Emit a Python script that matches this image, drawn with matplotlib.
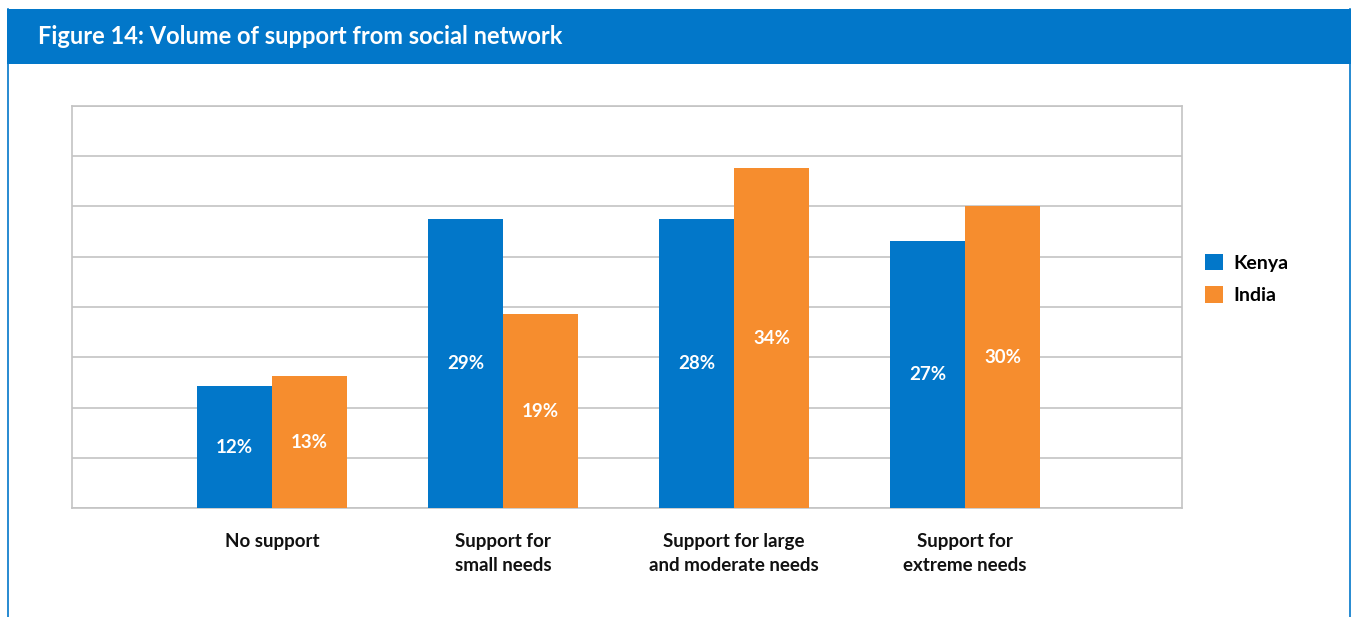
import numpy as np
import matplotlib.pyplot as plt
from matplotlib.lines import Line2D
from matplotlib.patches import Rectangle

# ======= DATOS =======
categories = ["No support", "Support for\nsmall needs",
              "Support for large\nand moderate needs", "Support for\nextreme needs"]
series_names = ["Kenya", "India"]
kenya_vals = [12.1, 28.8, 28.8, 26.6]   # altura de barra
india_vals = [13.1, 19.3, 33.8, 30.0]
kenya_labels = ["12%", "29%", "28%", "27%"]
india_labels = ["13%", "19%", "34%", "30%"]
# =====================

BLUE = "#0277C9"
ORANGE = "#F68D2E"
GRID = "#C4C4C4"
FONT = "Lato"

W, H = 1353, 617
fig = plt.figure(figsize=(W / 100, H / 100), dpi=100)
fig.patch.set_facecolor("white")

def fx(px): return px / W
def fy(py): return 1 - py / H

# marco (solo lados) y cabecera
for px in (8, 1350):
    fig.lines.append(Line2D([fx(px), fx(px)], [fy(9), 0], transform=fig.transFigure,
                            color=BLUE, lw=1.2))
fig.patches.append(Rectangle((fx(7), fy(64)), fx(1351) - fx(7), fy(9) - fy(64),
                             transform=fig.transFigure, facecolor=BLUE, edgecolor="none"))
fig.text(fx(38), fy(36), "Figure 14: Volume of support from social network", color="white",
         fontsize=17, fontweight="bold", family=FONT, va="center", ha="left")

ax = fig.add_axes([fx(72), fy(508), fx(1182) - fx(72), fy(106) - fy(508)])
x = np.arange(len(categories))
bw = 0.325
b1 = ax.bar(x - bw / 2, kenya_vals, bw, color=BLUE, label=series_names[0], zorder=3)
b2 = ax.bar(x + bw / 2, india_vals, bw, color=ORANGE, label=series_names[1], zorder=3)

for bars, labs in ((b1, kenya_labels), (b2, india_labels)):
    for r, lab in zip(bars, labs):
        ax.text(r.get_x() + r.get_width() / 2, r.get_height() / 2, lab, color="white",
                fontsize=13.5, fontweight="bold", family=FONT, ha="center", va="center", zorder=4)

ax.set_xlim(-0.866, 3.939)
ax.set_ylim(0, 40)
ax.set_yticks(np.arange(0, 41, 5))
ax.yaxis.grid(True, color=GRID, lw=1.2, zorder=0)
ax.tick_params(left=False, labelleft=False, bottom=False, labelbottom=False)
for s in ax.spines.values():
    s.set_color(GRID)
    s.set_linewidth(1.2)

for xi, cat in zip(x, categories):
    ax.text(xi, -2.5, cat, ha="center", va="top", fontsize=13.5, fontweight="bold",
            family=FONT, color="#111111", linespacing=1.5)

leg = fig.legend(handles=[b1, b2], labels=series_names, loc="upper left",
                 bbox_to_anchor=(fx(1187), fy(236)), frameon=False,
                 prop={"family": FONT, "weight": "bold", "size": 14},
                 handlelength=0.95, handleheight=0.95, handletextpad=0.55, labelspacing=0.75)

fig.savefig("out.png", dpi=100)
